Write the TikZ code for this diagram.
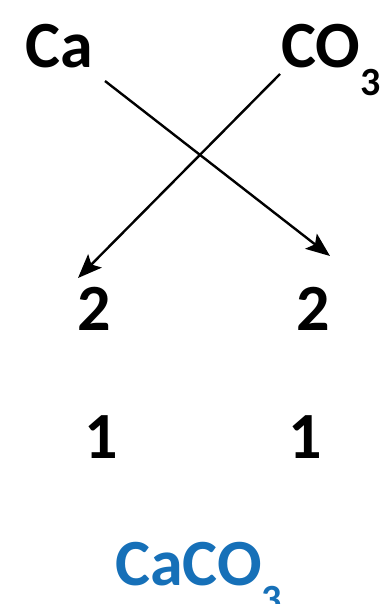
\documentclass[tikz,border=0pt]{standalone}
\usepackage{fontspec}
\setmainfont{Carlito}
\usetikzlibrary{arrows.meta}
\definecolor{formulaBlue}{RGB}{22, 112, 184}
\newcommand{\lowsub}[1]{\raisebox{-0.41em}{\fontsize{40}{40}\selectfont #1}}

\begin{document}
\begin{tikzpicture}[x=1pt, y=-1pt, every node/.style={inner sep=0pt, font=\fontsize{66}{66}\selectfont\bfseries}]
      \useasboundingbox (0,0) rectangle (380,604);

      % ions on top
      \node[anchor=base west] (ca) at (25,68) {Ca};
      \node[anchor=base west] (co) at (281,68) {CO\lowsub{3}};

      % valencies and reduced numbers
      \node[anchor=base] (twoL) at (94,330) {2};
      \node[anchor=base] (twoR) at (313,330) {2};
      \node[anchor=base] (oneL) at (101,458) {1};
      \node[anchor=base] (oneR) at (305,458) {1};

      % criss-cross
      \coordinate (caFoot) at (105,81);
      \coordinate (coFoot) at (280,74);
      \coordinate (twoRTop) at (330,256);
      \coordinate (twoLTop) at (78,278);
      \draw[line width=2.4pt, -{Stealth[length=24pt,width=19pt,inset=5pt]}] (caFoot) -- (twoRTop);
      \draw[line width=2.4pt, -{Stealth[length=24pt,width=19pt,inset=5pt]}] (coFoot) -- (twoLTop);

      % result
      \node[anchor=base west, formulaBlue] (formula) at (115,585) {CaCO\lowsub{3}};
    \end{tikzpicture}
\end{document}
